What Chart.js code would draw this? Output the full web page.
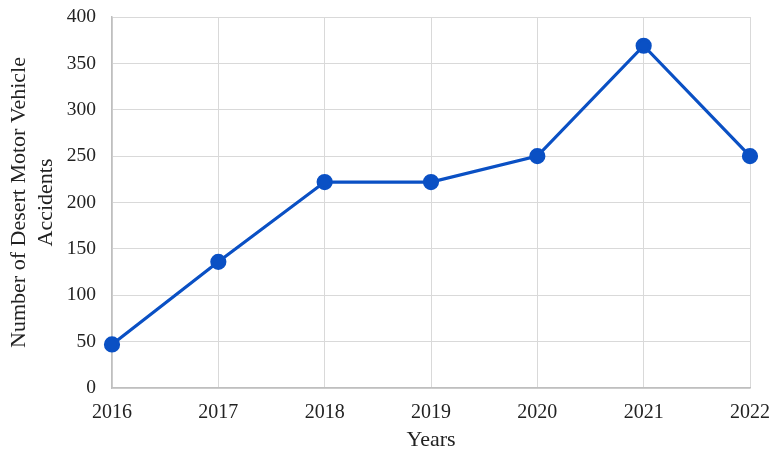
<!DOCTYPE html>
<html>
<head>
<meta charset="utf-8">
<script src="https://cdn.jsdelivr.net/npm/chart.js@4"></script>
<style>
html,body{margin:0;padding:0;background:#fff;}
#wrap{width:779px;height:461px;position:relative;}
</style>
</head>
<body>
<div id="wrap"><canvas id="c" width="779" height="461"></canvas></div>
<script>
const years = ['2016','2017','2018','2019','2020','2021','2022'];
const accidents = [47, 136, 222, 222, 250, 369, 250];
const yTitle = ['Number of Desert Motor Vehicle', 'Accidents'];
const xTitle = 'Years';

const FONT = "'Liberation Serif', 'Times New Roman', serif";
const blue = '#0a50c4';

new Chart(document.getElementById('c'), {
  type: 'line',
  data: {
    labels: years,
    datasets: [{
      data: accidents,
      borderColor: blue,
      backgroundColor: blue,
      borderWidth: 3.2,
      pointRadius: 6.5,
      pointHoverRadius: 6.5,
      pointBackgroundColor: blue,
      pointBorderColor: blue,
      tension: 0,
      fill: false
    }]
  },
  options: {
    responsive: false,
    animation: false,
    layout: { padding: { top: 17, right: 29, left: 0, bottom: 0 } },
    plugins: { legend: { display: false }, tooltip: { enabled: false } },
    scales: {
      x: {
        offset: false,
        grid: { color: '#d9d9d9', lineWidth: 1, drawTicks: false },
        border: { color: '#bfbfbf', width: 1.5 },
        ticks: { color: '#222', font: { family: FONT, size: 20 }, padding: 13, maxRotation: 0 },
        title: { display: true, text: xTitle, color: '#222', font: { family: FONT, size: 22 }, padding: { top: 0, bottom: 8 } },
        afterFit: s => { s.height = 73; s.paddingLeft = 0; s.paddingRight = 0; }
      },
      y: {
        min: 0, max: 400,
        grid: { color: '#d9d9d9', lineWidth: 1, drawTicks: false },
        border: { color: '#bfbfbf', width: 1.5 },
        ticks: { stepSize: 50, color: '#222', font: { family: FONT, size: 19.5 }, padding: 16 },
        title: { display: true, text: yTitle, color: '#222', font: { family: FONT, size: 22, lineHeight: 1.22 }, padding: { top: 6, bottom: 0 } },
        afterFit: s => { s.width = 112; s.paddingTop = 0; s.paddingBottom = 0; }
      }
    }
  }
});
</script>
</body>
</html>
